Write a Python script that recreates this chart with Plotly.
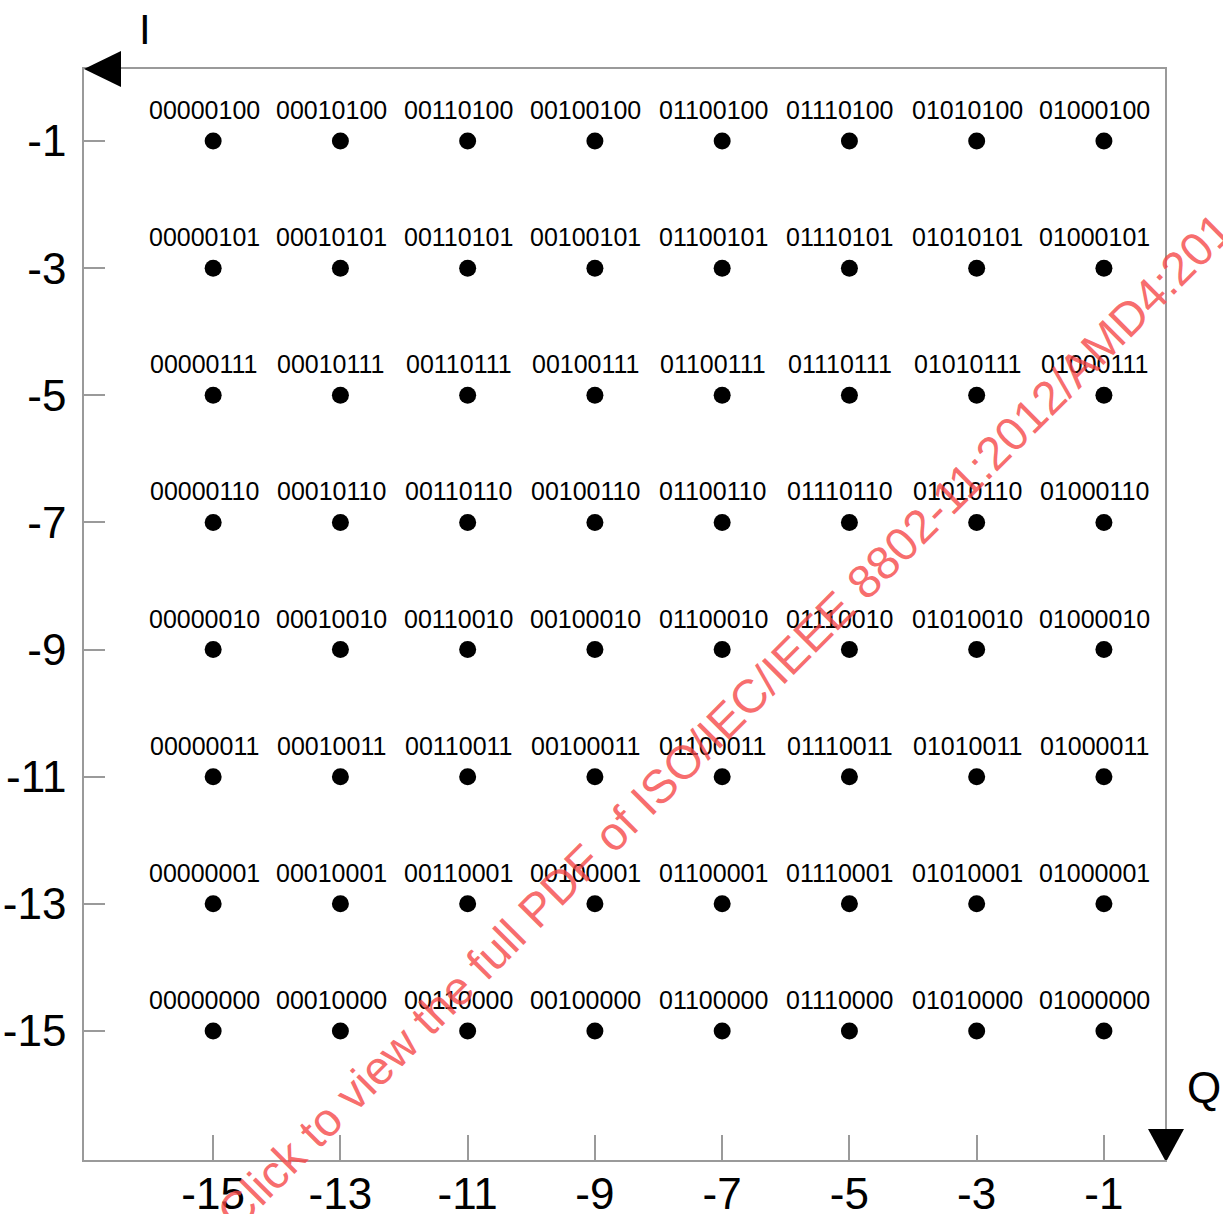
import plotly.graph_objects as go

# constellation axes (Q horizontal, I vertical)
q_values = [-15, -13, -11, -9, -7, -5, -3, -1]
i_values = [-1, -3, -5, -7, -9, -11, -13, -15]
q_ticktext = ["-15", "-13", "-11", "-9", "-7", "-5", "-3", "-1"]
i_ticktext = ["-1", "-3", "-5", "-7", "-9", "-11", "-13", "-15"]

# bit labels: column part (Q) + row part (I)
q_bits = ["00000", "00010", "00110", "00100", "01100", "01110", "01010", "01000"]
i_bits = ["100", "101", "111", "110", "010", "011", "001", "000"]

watermark = "Click to view the full PDF of ISO/IEC/IEEE 8802-11:2012/AMD4:2014"

xs, ys, labels = [], [], []
for iv, ib in zip(i_values, i_bits):
    for qv, qb in zip(q_values, q_bits):
        xs.append(qv)
        ys.append(iv)
        labels.append(qb + ib)

font = "Liberation Sans, Arial, sans-serif"

# plot area in page pixels
L, T, W, H = 84, 69, 1081, 1091

def px(xp):
    return (xp - L) / W

def py(yp):
    return (T + H - yp) / H

fig = go.Figure()
fig.add_trace(
    go.Scatter(x=xs, y=ys, mode='markers',
               marker=dict(color='black', size=17), hoverinfo='skip')
)

annotations = []
for x, y, t in zip(xs, ys, labels):
    annotations.append(dict(x=x, y=y, text=t, showarrow=False, xshift=-9, yshift=31,
                            font=dict(family=font, size=25, color='black')))

# axis names
annotations.append(dict(xref='paper', yref='paper', x=px(145), y=py(29),
                        xanchor='center', yanchor='middle',
                        text='I', showarrow=False, font=dict(family=font, size=42, color='black')))
annotations.append(dict(xref='paper', yref='paper', x=px(1204), y=py(1087),
                        xanchor='center', yanchor='middle',
                        text='Q', showarrow=False, font=dict(family=font, size=44, color='black')))

# red watermark
annotations.append(dict(xref='paper', yref='paper', x=px(734), y=py(712),
                        xanchor='center', yanchor='middle',
                        text=watermark, textangle=-45, showarrow=False,
                        font=dict(family=font, size=47, color='rgba(245,70,70,0.8)')))

shapes = [
    # arrow pointing left at top-left corner
    dict(type='path', xref='x', yref='paper', xsizemode='pixel', ysizemode='pixel',
         xanchor=-17.03, yanchor=1, path='M 0 0 L 37 18 L 37 -18 Z',
         fillcolor='black', line=dict(width=0)),
    # arrow pointing down at bottom-right corner
    dict(type='path', xref='paper', yref='y', xsizemode='pixel', ysizemode='pixel',
         xanchor=1, yanchor=-17.03, path='M 1 -2 L -17 31 L 19 31 Z',
         fillcolor='black', line=dict(width=0)),
]

axis_common = dict(showgrid=False, zeroline=False, showline=True, mirror=True,
                   automargin=False,
                   linecolor='#9a9a9a', linewidth=1.5, ticks='inside',
                   tickcolor='#9a9a9a', tickwidth=1.5,
                   tickfont=dict(family=font, size=44, color='black'))

fig.update_layout(
    width=1223, height=1214,
    margin=dict(l=L, r=1223 - L - W, t=T, b=1214 - T - H),
    paper_bgcolor='white', plot_bgcolor='white',
    showlegend=False,
    xaxis=dict(range=[-17.03, -0.04], tickvals=q_values, ticktext=q_ticktext,
               ticklen=25, ticklabelstandoff=-6, **axis_common),
    yaxis=dict(range=[-17.03, 0.133], tickvals=i_values, ticktext=i_ticktext,
               ticklen=21, ticklabelstandoff=7, **axis_common),
    annotations=annotations,
    shapes=shapes,
)

# drop the default body margin so the figure fills the window exactly
fig.write_html("out.html", config={'displayModeBar': False},
               post_script="document.body.style.margin='0';document.body.style.overflow='hidden';")
